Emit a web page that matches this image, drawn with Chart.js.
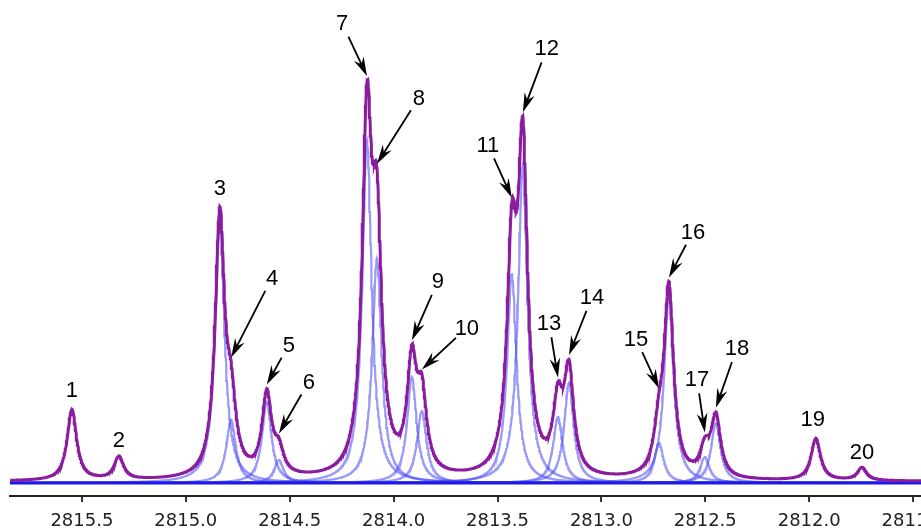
<!DOCTYPE html>
<html>
<head>
<meta charset="utf-8">
<script src="https://cdn.jsdelivr.net/npm/chart.js@4.4.1/dist/chart.umd.min.js"></script>
<style>
  html, body { margin: 0; padding: 0; background: #fff; }
  canvas { display: block; }
</style>
</head>
<body>
<canvas id="spectrum" width="921" height="529"></canvas>
<script>
// peaks (wavenumber in cm-1, height above baseline, half width)
const peakNames   = ['1','2','3','4','5','6','7','8','9','10','11','12','13','14','15','16','17','18','19','20'];
const peakCentres = [2815.548, 2815.322, 2814.836, 2814.782, 2814.610, 2814.552, 2814.128, 2814.080,
                     2813.912, 2813.864, 2813.431, 2813.378, 2813.209, 2813.156, 2812.723, 2812.675,
                     2812.502, 2812.449, 2811.968, 2811.746];
const peakHeights = [71, 23, 259, 63, 81, 23, 342, 224, 106, 72, 209, 316, 66, 100, 40, 187, 26, 60, 42, 13];
const peakWidths  = [0.0274, 0.0274, 0.0274, 0.0274, 0.0274, 0.0274, 0.0274, 0.0274, 0.0274, 0.0274,
                     0.0274, 0.0274, 0.0274, 0.0274, 0.0274, 0.0274, 0.0274, 0.0274, 0.0274, 0.0274];
// peaks whose fitted component is drawn in blue
const fittedPeaks = [3, 4, 5, 6, 7, 8, 9, 10, 11, 12, 13, 14, 15, 16, 17, 18];
const baselineOffset = 1.5;
const tickValues = [2815.5, 2815.0, 2814.5, 2814.0, 2813.5, 2813.0, 2812.5, 2812.0, 2811.5];
const xMin = 2811.462, xMax = 2815.846;

// label placement in pixels, relative to the point on the curve; arrow = true draws an arrow
const labelLayout = [
  [0, -15, false], [0, -12, false], [0, -15, false], [41, -80, true], [22, -40, true],
  [30, -52, true], [-25, -53, true], [42, -66, true], [26, -59, true], [45, -42, true],
  [-24, -53, true], [24, -64, true], [-9, -55, true], [23, -58, true], [-23, -50, true],
  [24, -46, true], [-8, -54, true], [21, -60, true], [-3, -15, false], [0, -11, false]
];

function lorentz(x, i) {
  const d = (x - peakCentres[i]) / peakWidths[i];
  return peakHeights[i] / (1 + d * d);
}
function spectrumAt(x) {
  let s = baselineOffset;
  for (let i = 0; i < peakCentres.length; i++) s += lorentz(x, i);
  return s;
}

const xs = [];
for (let x = xMin; x <= xMax; x += 0.002) xs.push(x);

const datasets = [];
datasets.push({
  data: xs.map(x => ({ x: x, y: spectrumAt(x) })),
  borderColor: '#8a1c9e',
  borderWidth: 3,
  order: 0
});
datasets.push({
  data: [{ x: xMin, y: 0 }, { x: xMax, y: 0 }],
  borderColor: '#1a1ae6',
  borderWidth: 3,
  order: 1
});
fittedPeaks.forEach(n => {
  const i = n - 1;
  datasets.push({
    data: xs.map(x => ({ x: x, y: lorentz(x, i) })),
    borderColor: 'rgba(70, 70, 240, 0.55)',
    borderWidth: 2.2,
    order: 2
  });
});

function drawArrow(c, x0, y0, x1, y1) {
  const a = Math.atan2(y1 - y0, x1 - x0);
  const L = 20, sp = 0.27;
  c.beginPath();
  c.moveTo(x0, y0);
  c.lineTo(x1 - Math.cos(a) * 10, y1 - Math.sin(a) * 10);
  c.stroke();
  c.beginPath();
  c.moveTo(x1, y1);
  c.lineTo(x1 - L * Math.cos(a - sp), y1 - L * Math.sin(a - sp));
  c.lineTo(x1 - 13 * Math.cos(a), y1 - 13 * Math.sin(a));
  c.lineTo(x1 - L * Math.cos(a + sp), y1 - L * Math.sin(a + sp));
  c.closePath();
  c.fill();
}

const peakLabels = {
  id: 'peakLabels',
  afterDatasetsDraw(chart) {
    const c = chart.ctx;
    const xs_ = chart.scales.x, ys_ = chart.scales.y;
    c.save();
    c.fillStyle = '#000';
    c.strokeStyle = '#000';
    c.lineWidth = 1.8;
    c.font = '22px "Liberation Sans", Arial, sans-serif';
    c.textAlign = 'center';
    c.textBaseline = 'middle';
    peakNames.forEach((name, i) => {
      const px = xs_.getPixelForValue(peakCentres[i]);
      const py = ys_.getPixelForValue(spectrumAt(peakCentres[i])) - 4;
      const [dx, dy, arrow] = labelLayout[i];
      const lx = px + dx, ly = py + dy;
      c.fillText(name, lx, ly + 1);
      if (arrow) {
        const len = Math.hypot(dx, dy);
        const sx = lx - dx / len * 15, sy = ly - dy / len * 15;
        drawArrow(c, sx, sy, px, py);
      }
    });
    c.restore();
  }
};

const chart = new Chart(document.getElementById('spectrum').getContext('2d'), {
  type: 'line',
  data: { datasets: datasets },
  options: {
    responsive: false,
    animation: false,
    devicePixelRatio: 1,
    parsing: false,
    normalized: true,
    elements: { point: { radius: 0 }, line: { tension: 0, fill: false } },
    layout: { padding: { left: 10, right: 0, top: 0, bottom: 0 } },
    plugins: { legend: { display: false }, tooltip: { enabled: false } },
    scales: {
      x: {
        type: 'linear',
        reverse: true,
        min: xMin,
        max: xMax,
        afterBuildTicks: s => { s.ticks = tickValues.map(v => ({ value: v })); },
        afterFit: s => { s.height = 33; s.paddingLeft = 0; s.paddingRight = 0; },
        ticks: {
          autoSkip: false,
          maxRotation: 0,
          padding: 9,
          color: '#222',
          font: { family: '"DejaVu Sans", Verdana, sans-serif', size: 18 },
          callback: v => v.toFixed(1)
        },
        grid: { drawOnChartArea: false, drawTicks: true, tickLength: 6, color: '#333', lineWidth: 2 },
        border: { display: true, color: '#222', width: 2 }
      },
      y: { display: false, min: -13, max: 483 }
    }
  },
  plugins: [peakLabels]
});
</script>
</body>
</html>
